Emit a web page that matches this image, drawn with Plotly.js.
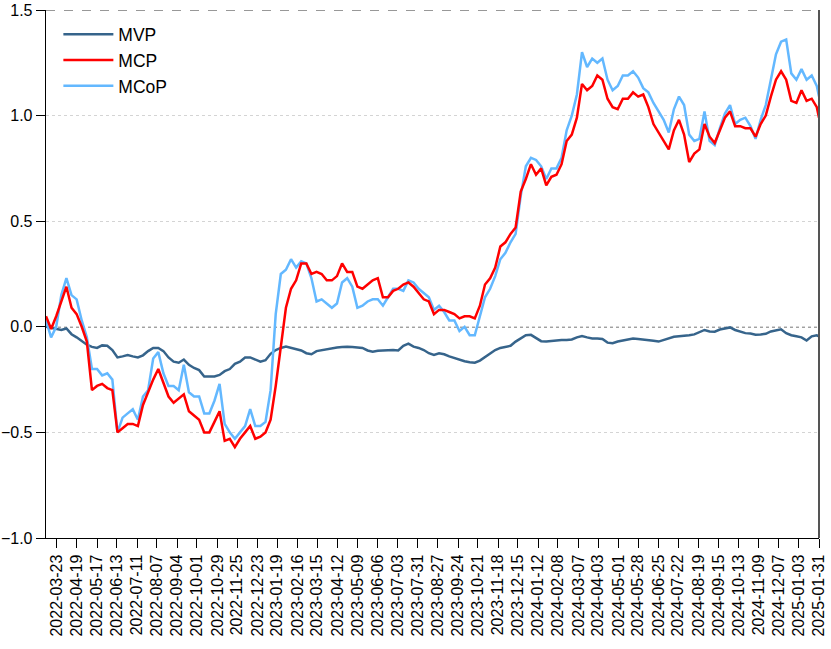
<!DOCTYPE html>
<html>
<head>
<meta charset="utf-8">
<script src="https://cdn.plot.ly/plotly-3.0.1.min.js"></script>
<style>html,body{margin:0;padding:0;background:#fff;}#chart{width:831px;height:649px;}</style>
</head>
<body>
<div id="chart"></div>
<script>
// Weekly samples starting 2022-03-08, last sample 2025-01-31
const startDate = "2022-03-08";
const stepDays = 7;
const endDate = "2025-01-31";

const seriesNames = ["MVP", "MCP", "MCoP"];

const mvp = [
 0.00, -0.005, -0.01, -0.015, -0.008, -0.035, -0.05, -0.068, -0.085, -0.095,
 -0.10, -0.088, -0.09, -0.11, -0.145, -0.14, -0.134, -0.14, -0.145, -0.135,
 -0.115, -0.10, -0.10, -0.115, -0.145, -0.165, -0.17, -0.155, -0.18, -0.195,
 -0.205, -0.235, -0.235, -0.235, -0.228, -0.21, -0.20, -0.175, -0.165, -0.145,
 -0.145, -0.155, -0.165, -0.158, -0.128, -0.11, -0.10, -0.094, -0.10, -0.105,
 -0.112, -0.125, -0.13, -0.115, -0.11, -0.105, -0.10, -0.098, -0.096, -0.094,
 -0.096, -0.098, -0.10, -0.112, -0.118, -0.113, -0.112, -0.11, -0.11, -0.112,
 -0.09, -0.08, -0.094, -0.10, -0.11, -0.125, -0.133, -0.125, -0.13, -0.14,
 -0.148, -0.157, -0.163, -0.168, -0.17, -0.16, -0.142, -0.125, -0.11, -0.10,
 -0.095, -0.09, -0.07, -0.055, -0.04, -0.038, -0.055, -0.068, -0.07, -0.068,
 -0.063, -0.063, -0.063, -0.06, -0.05, -0.044, -0.05, -0.055, -0.055, -0.058,
 -0.075, -0.078, -0.07, -0.065, -0.06, -0.055, -0.058, -0.06, -0.063, -0.066,
 -0.07, -0.062, -0.055, -0.047, -0.045, -0.044, -0.04, -0.036, -0.025, -0.015,
 -0.022, -0.023, -0.013, -0.008, -0.003, -0.015, -0.022, -0.03, -0.032, -0.038,
 -0.036, -0.033, -0.022, -0.016, -0.012, -0.03, -0.04, -0.045, -0.05, -0.065,
 -0.045, -0.04, -0.045
];

const mcp = [
 0.05, -0.01, 0.05, 0.12, 0.19, 0.09, 0.06, 0.00, -0.07, -0.30,
 -0.28, -0.27, -0.29, -0.30, -0.50, -0.48, -0.46, -0.46, -0.47, -0.37,
 -0.31, -0.25, -0.20, -0.27, -0.33, -0.36, -0.34, -0.32, -0.40, -0.42,
 -0.44, -0.50, -0.50, -0.45, -0.40, -0.54, -0.53, -0.57, -0.53, -0.50,
 -0.47, -0.53, -0.52, -0.50, -0.44, -0.28, -0.10, 0.09, 0.18, 0.22,
 0.30, 0.30, 0.25, 0.26, 0.25, 0.22, 0.22, 0.24, 0.30, 0.26,
 0.26, 0.19, 0.18, 0.20, 0.22, 0.23, 0.14, 0.14, 0.17, 0.18,
 0.20, 0.21, 0.19, 0.16, 0.13, 0.12, 0.06, 0.08, 0.08, 0.07,
 0.06, 0.04, 0.05, 0.05, 0.04, 0.10, 0.20, 0.23, 0.28, 0.38,
 0.40, 0.44, 0.47, 0.64, 0.70, 0.77, 0.72, 0.75, 0.67, 0.71,
 0.72, 0.77, 0.88, 0.91, 0.99, 1.15, 1.12, 1.14, 1.19, 1.17,
 1.08, 1.04, 1.03, 1.08, 1.08, 1.11, 1.09, 1.10, 1.04, 0.96,
 0.92, 0.88, 0.84, 0.93, 0.98, 0.91, 0.78, 0.82, 0.84, 0.96,
 0.90, 0.87, 0.93, 0.99, 1.02, 0.95, 0.95, 0.94, 0.94, 0.90,
 0.96, 1.00, 1.09, 1.17, 1.21, 1.17, 1.07, 1.06, 1.12, 1.07,
 1.08, 1.04, 0.99
];

const mcop = [
 0.03, -0.05, 0.00, 0.15, 0.23, 0.15, 0.13, 0.03, -0.05, -0.20,
 -0.20, -0.23, -0.22, -0.25, -0.50, -0.43, -0.41, -0.39, -0.44, -0.33,
 -0.30, -0.15, -0.12, -0.22, -0.28, -0.28, -0.30, -0.18, -0.31, -0.33,
 -0.33, -0.41, -0.41, -0.35, -0.27, -0.46, -0.50, -0.53, -0.50, -0.47,
 -0.39, -0.47, -0.47, -0.45, -0.30, 0.06, 0.25, 0.27, 0.32, 0.28,
 0.31, 0.30, 0.23, 0.12, 0.13, 0.11, 0.09, 0.11, 0.21, 0.23,
 0.19, 0.09, 0.10, 0.12, 0.13, 0.13, 0.10, 0.14, 0.18, 0.18,
 0.17, 0.22, 0.21, 0.18, 0.16, 0.14, 0.08, 0.10, 0.07, 0.03,
 0.03, -0.02, 0.00, -0.04, -0.04, 0.05, 0.14, 0.18, 0.24, 0.32,
 0.35, 0.40, 0.44, 0.62, 0.76, 0.80, 0.79, 0.76, 0.70, 0.75,
 0.75, 0.80, 0.93, 1.00, 1.10, 1.30, 1.23, 1.27, 1.25, 1.27,
 1.17, 1.12, 1.14, 1.19, 1.19, 1.21, 1.18, 1.13, 1.11, 1.06,
 1.02, 0.98, 0.92, 1.03, 1.09, 1.05, 0.91, 0.88, 0.89, 1.02,
 0.88, 0.86, 0.94, 1.01, 1.05, 0.96, 0.98, 0.99, 0.95, 0.89,
 0.98, 1.05, 1.17, 1.29, 1.35, 1.36, 1.20, 1.17, 1.22, 1.17,
 1.19, 1.14, 1.09
];

const tickDates = [
 "2022-03-23","2022-04-19","2022-05-17","2022-06-13","2022-07-11","2022-08-07",
 "2022-09-04","2022-10-01","2022-10-29","2022-11-25","2022-12-23","2023-01-19",
 "2023-02-16","2023-03-15","2023-04-12","2023-05-09","2023-06-06","2023-07-03",
 "2023-07-31","2023-08-27","2023-09-24","2023-10-21","2023-11-18","2023-12-15",
 "2024-01-12","2024-02-08","2024-03-07","2024-04-03","2024-05-01","2024-05-28",
 "2024-06-25","2024-07-22","2024-08-19","2024-09-15","2024-10-13","2024-11-09",
 "2024-12-07","2025-01-03","2025-01-31"
];

const yTicks = [-1.0, -0.5, 0.0, 0.5, 1.0, 1.5];

// build date positions
const dates = [];
const t0 = Date.parse(startDate + "T00:00:00Z");
for (let k = 0; k < mvp.length - 1; k++) {
  dates.push(new Date(t0 + k * stepDays * 86400000).toISOString().slice(0, 10));
}
dates.push(endDate);

const FONT = "Liberation Sans, Arial, Helvetica, sans-serif";

const traces = [
  {x: dates, y: mvp, name: seriesNames[0], type: "scatter", mode: "lines",
   line: {color: "#36648B", width: 2.5}, legendrank: 1},
  {x: dates, y: mcop, name: seriesNames[2], type: "scatter", mode: "lines",
   line: {color: "#63B8FF", width: 2.5}, legendrank: 3},
  {x: dates, y: mcp, name: seriesNames[1], type: "scatter", mode: "lines",
   line: {color: "#FF0000", width: 2.5}, legendrank: 2}
];

const layout = {
  width: 831, height: 649,
  margin: {l: 46, r: 12, t: 10, b: 111, pad: 0},
  paper_bgcolor: "#ffffff", plot_bgcolor: "#ffffff",
  font: {family: FONT, color: "#000"},
  showlegend: true,
  legend: {x: 0.016, y: 0.988, xanchor: "left", yanchor: "top",
           bgcolor: "rgba(0,0,0,0)", font: {size: 17.5, family: FONT},
           itemwidth: 50, tracegroupgap: 0},
  xaxis: {
    type: "date", range: [startDate, endDate],
    tickmode: "array", tickvals: tickDates, ticktext: tickDates,
    tickangle: -90, tickfont: {size: 16, family: FONT},
    ticks: "outside", ticklen: 9, tickcolor: "#000", tickwidth: 1,
    showline: true, linecolor: "#000", linewidth: 1.3,
    showgrid: false, zeroline: false
  },
  yaxis: {
    range: [-1.0, 1.5], tickmode: "array", tickvals: yTicks,
    tickformat: ".1f", tickfont: {size: 16, family: FONT},
    ticks: "outside", ticklen: 9, tickcolor: "#000", tickwidth: 1,
    showline: true, linecolor: "#000", linewidth: 1.3,
    showgrid: true, gridcolor: "#d4d4d4", griddash: "dot", gridwidth: 1,
    zeroline: false
  },
  shapes: [
    {type: "line", xref: "paper", yref: "y", x0: 0, x1: 1, y0: 0, y1: 0,
     line: {color: "#444", width: 1.5, dash: "dot"}, layer: "below"},
    {type: "line", xref: "paper", yref: "y", x0: 0, x1: 1, y0: 1.5, y1: 1.5,
     line: {color: "#333", width: 1, dash: "dash"}},
    {type: "line", xref: "paper", yref: "paper", x0: 1, x1: 1, y0: 0, y1: 1,
     line: {color: "#555", width: 2}}
  ]
};

Plotly.newPlot("chart", traces, layout, {displayModeBar: false, staticPlot: true});
</script>
</body>
</html>
